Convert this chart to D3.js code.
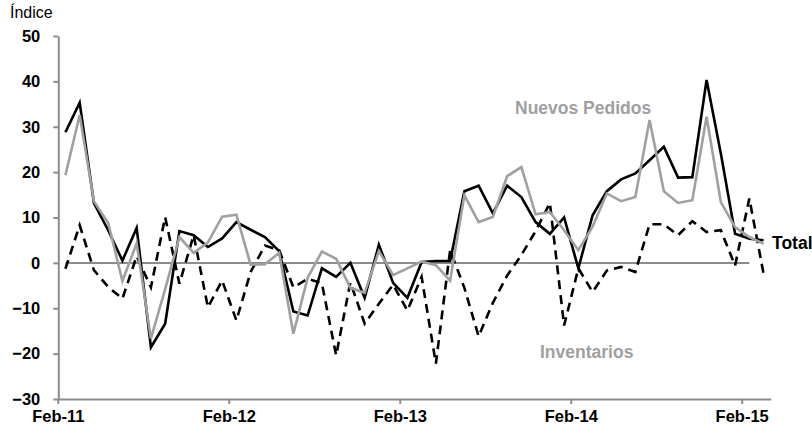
<!DOCTYPE html>
<html>
<head>
<meta charset="utf-8">
<script src="https://cdn.jsdelivr.net/npm/d3@7"></script>
<style>
  html, body { margin: 0; padding: 0; background: #fff; }
  svg { display: block; }
  text { font-family: "Liberation Sans", Arial, sans-serif; }
</style>
</head>
<body>
<svg id="chart" width="812" height="435"></svg>
<script>
// ---- Data ----
const categories = [
  "Feb-11","Mar-11","Apr-11","May-11","Jun-11","Jul-11","Aug-11","Sep-11","Oct-11","Nov-11","Dec-11","Jan-12",
  "Feb-12","Mar-12","Apr-12","May-12","Jun-12","Jul-12","Aug-12","Sep-12","Oct-12","Nov-12","Dec-12","Jan-13",
  "Feb-13","Mar-13","Apr-13","May-13","Jun-13","Jul-13","Aug-13","Sep-13","Oct-13","Nov-13","Dec-13","Jan-14",
  "Feb-14","Mar-14","Apr-14","May-14","Jun-14","Jul-14","Aug-14","Sep-14","Oct-14","Nov-14","Dec-14","Jan-15",
  "Feb-15","Mar-15"
];
const total = [28.8, 35.3, 13.2, 7.2, 0.5, 7.7, -18.6, -13.4, 7.0, 6.1,
  3.5, 5.4, 9.0, 7.3, 5.7, 2.6, -10.7, -11.6, -1.2, -3.1,
  0.0, -7.7, 4.0, -4.4, -7.7, 0.2, 0.4, 0.4, 15.8, 17.0,
  10.9, 17.0, 14.5, 9.0, 6.4, 10.0, -1.2, 10.5, 15.8, 18.4,
  19.7, 22.6, 25.6, 18.8, 18.9, 40.3, 24.1, 6.4, 5.3, 5.0];
const nuevosPedidos = [19.3, 32.6, 13.6, 8.8, -4.0, 4.3, -16.7, -5.8, 5.7, 2.2,
  4.5, 10.2, 10.6, -0.4, -0.3, 2.2, -15.6, -3.3, 2.5, 0.9,
  -5.5, -6.6, 2.6, -2.7, -1.2, 0.3, -0.5, -3.9, 14.9, 9.0,
  10.1, 19.1, 21.1, 10.7, 11.2, 7.2, 2.8, 8.0, 15.3, 13.6,
  14.5, 31.5, 15.8, 13.2, 13.8, 32.2, 13.4, 7.9, 5.7, 4.2];
const inventarios = [-1.3, 8.3, -1.6, -5.3, -7.9, 1.5, -5.4, 10.1, -4.6, 6.1,
  -9.8, -3.9, -12.7, -2.0, 3.8, 2.8, -5.4, -3.5, -4.5, -20.4,
  -4.3, -13.4, -9.0, -4.8, -10.5, -3.1, -22.2, 2.8, -5.5, -16.2,
  -8.8, -2.8, 1.7, 7.0, 13.2, -13.8, -1.2, -6.4, -1.7, -0.9,
  -2.0, 8.5, 8.5, 6.1, 9.2, 6.8, 7.2, -0.6, 14.2, -2.4];
const xTickLabels = ["Feb-11","Feb-12","Feb-13","Feb-14","Feb-15"];
const yTicks = [-30, -20, -10, 0, 10, 20, 30, 40, 50];

// ---- Layout ----
const svg = d3.select("#chart");
const plotLeft = 58.3, plotRight = 770.7, plotTop = 36, plotBottom = 399;
const axisColor = "#8c8c8c";
const grayColor = "#a0a0a0";

const x = d3.scaleBand().domain(categories).range([plotLeft, plotRight]).padding(0);
const cx = d => x(d) + x.bandwidth() / 2;
const y = d3.scaleLinear().domain([-30, 50]).range([plotBottom, plotTop]);

// Y axis
const yAxis = svg.append("g")
  .attr("transform", `translate(${plotLeft},0)`)
  .call(d3.axisLeft(y).tickValues(yTicks).tickSize(5).tickSizeOuter(0).tickPadding(13).tickFormat(d3.format("d")));
yAxis.select(".domain").attr("stroke", axisColor).attr("stroke-width", 2);
yAxis.selectAll(".tick line").attr("stroke", axisColor).attr("stroke-width", 2);
yAxis.selectAll(".tick text")
  .attr("fill", "#000").attr("font-size", "16.5px").attr("font-weight", "bold")
  .attr("font-family", '"Liberation Sans", Arial, sans-serif');

// X axis
const xAxis = svg.append("g")
  .attr("transform", `translate(0,${plotBottom})`)
  .call(d3.axisBottom(x).tickValues(xTickLabels).tickSize(5).tickSizeOuter(0).tickPadding(6));
xAxis.selectAll(".tick").attr("transform", d => `translate(${x(d)},0)`);
xAxis.select(".domain").attr("stroke", axisColor).attr("stroke-width", 2);
xAxis.selectAll(".tick line").attr("stroke", axisColor).attr("stroke-width", 2);
xAxis.selectAll(".tick text")
  .attr("fill", "#000").attr("font-size", "16.5px").attr("font-weight", "bold")
  .attr("font-family", '"Liberation Sans", Arial, sans-serif');

// Zero line
const zeroCats = categories.slice(0, categories.length - 1);
svg.append("path")
  .datum(zeroCats)
  .attr("fill", "none").attr("stroke", axisColor).attr("stroke-width", 2)
  .attr("d", d3.line().x(d => cx(d)).y(() => y(0)));

const line = d3.line().x((d, i) => cx(categories[i])).y(d => y(d));

// Inventarios (dashed)
svg.append("path").datum(inventarios)
  .attr("fill", "none").attr("stroke", "#000").attr("stroke-width", 2.6)
  .attr("stroke-dasharray", "9,6")
  .attr("d", line);
// Total
svg.append("path").datum(total)
  .attr("fill", "none").attr("stroke", "#000").attr("stroke-width", 2.6)
  .attr("d", line);
// Nuevos pedidos
svg.append("path").datum(nuevosPedidos)
  .attr("fill", "none").attr("stroke", grayColor).attr("stroke-width", 2.6)
  .attr("d", line);

// Labels
svg.append("text").attr("x", 10).attr("y", 17.5)
  .attr("font-size", "16px").attr("fill", "#000").text("Índice");
svg.append("text").attr("x", 515).attr("y", 114)
  .attr("font-size", "17.5px").attr("font-weight", "bold").attr("fill", grayColor).text("Nuevos Pedidos");
svg.append("text").attr("x", 540).attr("y", 358)
  .attr("font-size", "17.5px").attr("font-weight", "bold").attr("fill", grayColor).text("Inventarios");
svg.append("text").attr("x", 772).attr("y", 249)
  .attr("font-size", "17.5px").attr("font-weight", "bold").attr("fill", "#000").text("Total");
</script>
</body>
</html>
